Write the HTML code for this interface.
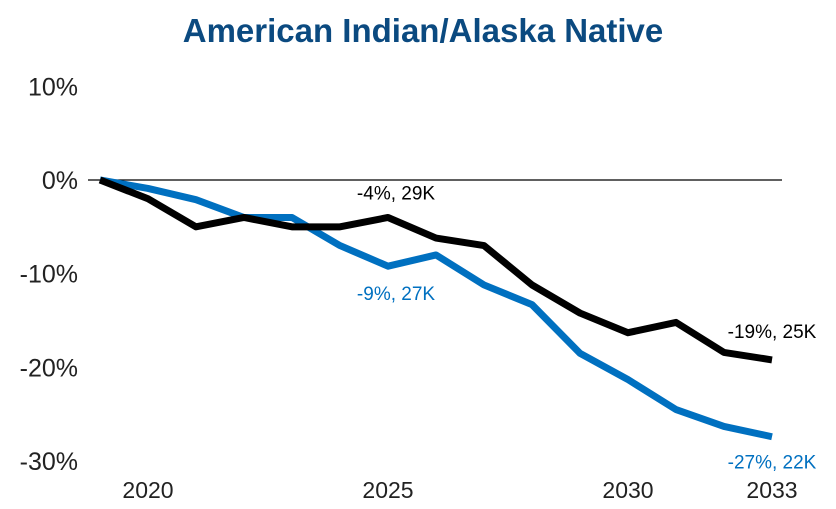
<!DOCTYPE html>
<html><head><meta charset="utf-8"><style>
body{margin:0;background:#fff;}
svg{display:block;font-family:"Liberation Sans",sans-serif;}
</style></head><body>
<svg id="chart" width="836" height="509">
<text x="423" y="42" text-anchor="middle" font-size="33" font-weight="bold" fill="#0b4a80">American Indian/Alaska Native</text>
<g id="yaxis"></g>
<g id="xaxis"></g>
<line x1="88" x2="782" y1="180" y2="180" stroke="#000" stroke-width="1.3"/>
<g id="series"></g>
<g id="labels"></g>
</svg>
<script>
const years=[2019,2020,2021,2022,2023,2024,2025,2026,2027,2028,2029,2030,2031,2032,2033];
const seriesBlack=[0,-2,-5,-4,-5,-5,-4,-6.2,-7,-11.2,-14.2,-16.3,-15.2,-18.4,-19.2];
const seriesBlue=[0,-0.9,-2.1,-4,-4,-7,-9.2,-8,-11.2,-13.3,-18.5,-21.3,-24.5,-26.3,-27.4];
const yTicks=[10,0,-10,-20,-30];
const yTickLabels=["10%","0%","-10%","-20%","-30%"];
const xTicks=[2020,2025,2030,2033];
const annotations=[
 {year:2025,value:-4,text:"-4%, 29K",color:"#000",dy:-18},
 {year:2025,value:-9.2,text:"-9%, 27K",color:"#0070c0",dy:34},
 {year:2033,value:-19.2,text:"-19%, 25K",color:"#000",dy:-22},
 {year:2033,value:-27.4,text:"-27%, 22K",color:"#0070c0",dy:32}
];
const NS="http://www.w3.org/2000/svg";
const x=y=>100+(y-2019)*48;
const yS=v=>180-v*9.37;
function mk(tag,attrs,parent){const e=document.createElementNS(NS,tag);for(const k in attrs)e.setAttribute(k,attrs[k]);document.getElementById(parent).appendChild(e);return e;}
yTicks.forEach((t,i)=>{const e=mk("text",{x:78,y:yS(t)+9,"text-anchor":"end","font-size":"25",fill:"#222"},"yaxis");e.textContent=yTickLabels[i];

});
xTicks.forEach(t=>{const e=mk("text",{x:x(t),y:498,"text-anchor":"middle","font-size":"23",fill:"#222"},"xaxis");e.textContent=t;

});
function line(vals,color,name){const p=mk("polyline",{points:vals.map((v,i)=>x(years[i])+","+yS(v)).join(" "),fill:"none",stroke:color,"stroke-width":"7","stroke-linejoin":"round"},"series");

}
line(seriesBlue,"#0070c0","series-blue");
line(seriesBlack,"#000","series-black");
annotations.forEach(a=>{const e=mk("text",{x:x(a.year)+(a.year==2033?0:8),y:yS(a.value)+a.dy,"text-anchor":"middle","font-size":"19",fill:a.color},"labels");e.textContent=a.text;

});
</script>
</body></html>
